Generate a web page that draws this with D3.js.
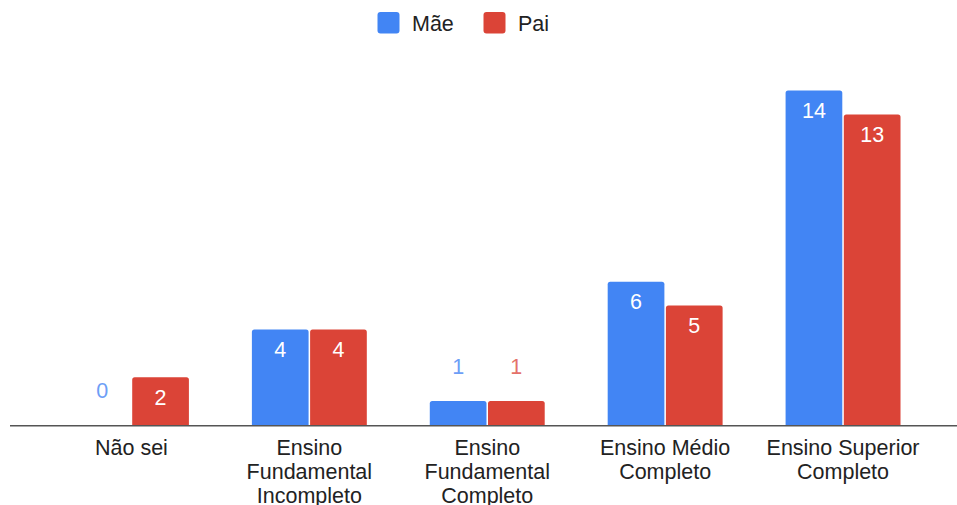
<!DOCTYPE html>
<html><head><meta charset="utf-8">
<script src="https://cdn.jsdelivr.net/npm/d3@7"></script>
<style>html,body{margin:0;padding:0;background:#fff;}svg{display:block;}</style>
</head><body>
<svg id="chart" width="957" height="505"></svg>
<script>
const categories = ["Não sei", "Ensino Fundamental Incompleto", "Ensino Fundamental Completo", "Ensino Médio Completo", "Ensino Superior Completo"];
const categoryLines = [["Não sei"], ["Ensino", "Fundamental", "Incompleto"], ["Ensino", "Fundamental", "Completo"], ["Ensino Médio", "Completo"], ["Ensino Superior", "Completo"]];
const seriesNames = ["Mãe", "Pai"];
const maeValues = [0, 4, 1, 6, 14];
const paiValues = [2, 4, 1, 5, 13];
const seriesColors = ["#4285f4", "#db4437"];
const labelColorsOutside = ["#6d9ef6", "#e4716a"];

const svg = d3.select("#chart");
const font = "'Liberation Sans', Arial, sans-serif";
const fs = 21.5;

const x0 = d3.scaleBand().domain(categories).range([42.5, 932]).paddingInner(0.354).paddingOuter(0.177);
const x1 = d3.scaleBand().domain(seriesNames).range([0, x0.bandwidth()]).paddingInner(0.026);
const y = d3.scaleLinear().domain([0, 14]).range([425, 90.5]);

const series = [maeValues, paiValues];
const data = [];
categories.forEach((c, i) => {
  seriesNames.forEach((s, j) => data.push({c, s, v: series[j][i], j}));
});

function barPath(x, yTop, w, h, r) {
  if (h <= 0) return "";
  r = Math.min(r, h, w / 2);
  const yb = yTop + h;
  return `M${x},${yb}V${yTop + r}Q${x},${yTop} ${x + r},${yTop}H${x + w - r}Q${x + w},${yTop} ${x + w},${yTop + r}V${yb}Z`;
}

svg.append("g").selectAll("path").data(data).join("path")
  .attr("d", d => barPath(x0(d.c) + x1(d.s), y(d.v), x1.bandwidth(), y(0) - y(d.v), 2.5))
  .attr("fill", d => seriesColors[d.j]);

// value labels
svg.append("g").selectAll("text").data(data).join("text")
  .attr("x", d => x0(d.c) + x1(d.s) + x1.bandwidth() / 2)
  .attr("y", d => d.v >= 2 ? y(d.v) + 27.5 : y(d.v) - 27)
  .attr("text-anchor", "middle")
  .attr("font-family", font).attr("font-size", fs)
  .attr("fill", d => d.v >= 2 ? "#ffffff" : labelColorsOutside[d.j])
  .text(d => d.v);

// baseline
svg.append("line").attr("x1", 10).attr("x2", 957).attr("y1", 425.75).attr("y2", 425.75)
  .attr("stroke", "#555").attr("stroke-width", 1.5);

// category labels
const xl = svg.append("g");
categories.forEach((c, i) => {
  const t = xl.append("text").attr("text-anchor", "middle")
    .attr("font-family", font).attr("font-size", fs).attr("fill", "#222");
  categoryLines[i].forEach((ln, k) => {
    t.append("tspan").attr("x", x0(c) + x0.bandwidth() / 2).attr("y", 455 + k * 24).text(ln);
  });
});

// legend
const legendX = [377.5, 483.5];
const lg = svg.append("g");
seriesNames.forEach((s, j) => {
  lg.append("rect").attr("x", legendX[j]).attr("y", 12).attr("width", 22).attr("height", 21.5)
    .attr("rx", 3).attr("fill", seriesColors[j]);
  lg.append("text").attr("x", legendX[j] + 34.5).attr("y", 31)
    .attr("font-family", font).attr("font-size", fs).attr("fill", "#222").text(s);
});
</script>
</body></html>
